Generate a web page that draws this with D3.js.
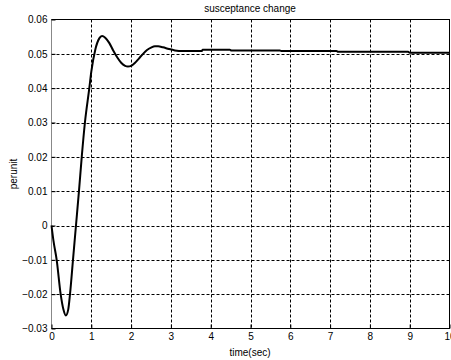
<!DOCTYPE html>
<html><head><meta charset="utf-8">
<script src="https://cdn.jsdelivr.net/npm/d3@7"></script>
<style>body{margin:0;background:#fff}svg{display:block}text{font-family:"Liberation Sans",Arial,sans-serif;font-size:10px;fill:#000}</style>
</head><body>
<script>
const timeSec = [0,0.05,0.13,0.23,0.3,0.36,0.42,0.465,0.54,0.615,0.69,0.76,0.84,0.95,1.0,1.1,1.2,1.27,1.35,1.45,1.55,1.65,1.75,1.85,1.92,2.0,2.1,2.2,2.3,2.4,2.5,2.6,2.68,2.8,2.95,3.1,3.3,3.5,3.7,3.77,3.8,4.48,4.52,5.74,5.78,7.16,7.2,8.96,9.0,10];
const perunit = [0,-0.0045,-0.01,-0.02,-0.0245,-0.0262,-0.0245,-0.02,-0.01,0,0.01,0.02,0.03,0.04,0.0448,0.0512,0.0545,0.0552,0.0547,0.0532,0.0510,0.0490,0.0474,0.0465,0.0463,0.0465,0.0474,0.0487,0.0500,0.0511,0.0518,0.0522,0.0522,0.0519,0.0514,0.0510,0.0508,0.0508,0.0508,0.0508,0.0512,0.0512,0.0510,0.0510,0.0508,0.0508,0.0506,0.0506,0.0503,0.0503];
const xTicks = [0,1,2,3,4,5,6,7,8,9,10];
const yTicks = [-0.03,-0.02,-0.01,0,0.01,0.02,0.03,0.04,0.05,0.06];
const titleText = "susceptance change";
const xLabel = "time(sec)";
const yLabel = "perunit";

const W=451,H=360;
const m={l:51.5,r:449.5,t:19.5,b:328.5};
const svg=d3.select("body").append("svg").attr("width",W).attr("height",H);
const x=d3.scaleLinear().domain([0,10]).range([m.l,m.r]);
const y=d3.scaleLinear().domain([-0.03,0.06]).range([m.b,m.t]);

// grid
const g=svg.append("g");
g.selectAll(".vx").data(xTicks.slice(1,-1)).enter().append("line")
 .attr("x1",d=>Math.round(x(d))+0.5).attr("x2",d=>Math.round(x(d))+0.5).attr("y1",m.t).attr("y2",m.b)
 .attr("stroke","#000").attr("stroke-width",1).attr("stroke-dasharray","3,2");
g.selectAll(".hy").data(yTicks.slice(1,-1)).enter().append("line")
 .attr("y1",d=>Math.round(y(d))+0.5).attr("y2",d=>Math.round(y(d))+0.5).attr("x1",m.l).attr("x2",m.r)
 .attr("stroke","#000").attr("stroke-width",1).attr("stroke-dasharray","3,2");

// box
svg.append("rect").attr("x",m.l).attr("y",m.t).attr("width",m.r-m.l).attr("height",m.b-m.t)
 .attr("fill","none").attr("stroke","#000").attr("stroke-width",1);
svg.append("line").attr("x1",m.l).attr("x2",m.l).attr("y1",m.t).attr("y2",m.b).attr("stroke","#888").attr("stroke-width",1);

// axes
const xa=svg.append("g").attr("transform",`translate(0,${m.b})`)
 .call(d3.axisBottom(x).tickValues(xTicks).tickSize(-4).tickPadding(4).tickFormat(d3.format("d")));
xa.select(".domain").remove();
xa.selectAll("line").attr("stroke","#000");
const ya=svg.append("g").attr("transform",`translate(${m.l},0)`)
 .call(d3.axisLeft(y).tickValues(yTicks).tickSize(-4).tickPadding(4).tickFormat(d=>d===0?"0":d3.format(".2f")(d)));
ya.select(".domain").remove();
ya.selectAll("line").attr("stroke","#000");
svg.selectAll(".tick text").style("font-size","10px").attr("fill","#000");

// curve
const line=d3.line().x((d,i)=>x(timeSec[i])).y(d=>y(d)).curve(d3.curveMonotoneX);
svg.append("path").datum(perunit).attr("d",line).attr("fill","none").attr("stroke","#000").attr("stroke-width",2);

// labels
svg.append("text").attr("x",250).attr("y",12).attr("text-anchor","middle").text(titleText);
svg.append("text").attr("x",250).attr("y",356).attr("text-anchor","middle").text(xLabel);
svg.append("text").attr("transform","translate(17,174) rotate(-90)").attr("text-anchor","middle").text(yLabel);
</script>
</body></html>
